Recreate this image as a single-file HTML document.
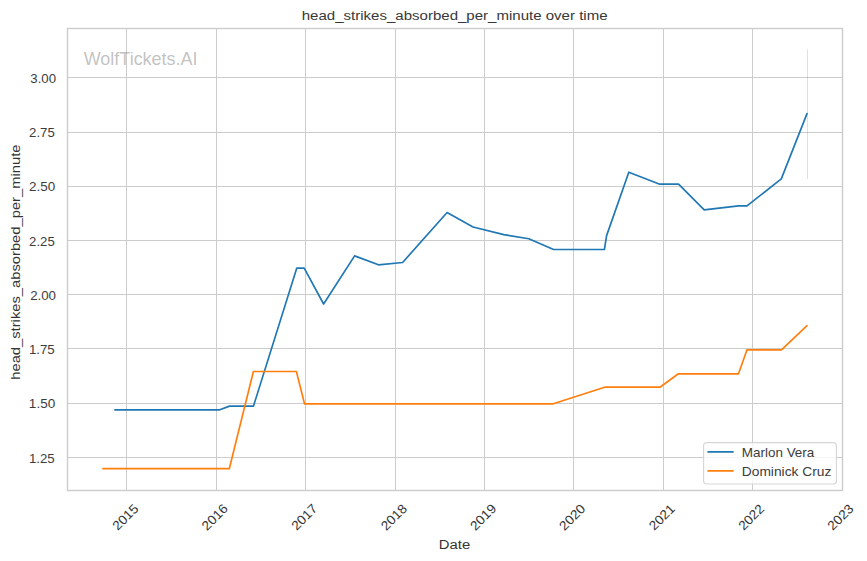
<!DOCTYPE html>
<html><head><meta charset="utf-8"><style>
html,body{margin:0;padding:0;background:#fff;width:867px;height:561px;overflow:hidden}
svg{display:block}
text{font-family:"Liberation Sans",sans-serif}
</style></head><body>
<svg width="867" height="561" viewBox="0 0 867 561">
<path d="M67.5 77.5H842.5M67.5 132.5H842.5M67.5 186.5H842.5M67.5 240.5H842.5M67.5 294.5H842.5M67.5 348.5H842.5M67.5 403.5H842.5M67.5 457.5H842.5M126.5 28.5V490.5M216.5 28.5V490.5M305.5 28.5V490.5M395.5 28.5V490.5M484.5 28.5V490.5M573.5 28.5V490.5M663.5 28.5V490.5M752.5 28.5V490.5" stroke="#cccccc" stroke-width="1" fill="none"/>
<text fill-opacity="0.49" transform="translate(83.71 64.75) scale(1.0293 1)" font-size="17.47" fill="#808080">WolfTickets.AI</text>
<path d="M807.5 49.4V179.1" stroke="#1f77b4" stroke-opacity="0.2" stroke-width="1" fill="none"/>
<polyline points="114.9,409.8 219.8,409.8 229.5,406.1 253.5,406.1 296.8,268.1 304.2,268.1 323.6,304.0 354.6,255.9 378.4,264.8 402.6,262.5 447.1,212.5 473.0,227.0 503.8,234.6 528.8,238.8 553.6,249.5 604.4,249.5 606.6,235.6 628.8,172.2 659.8,184.2 678.6,184.2 704.2,209.8 738.5,205.9 747.0,205.9 781.3,178.9 807.0,113.6" stroke="#1f77b4" stroke-width="1.67" fill="none" stroke-linejoin="round" stroke-linecap="round"/>
<polyline points="102.9,468.7 229.3,468.7 253.4,371.5 296.4,371.5 304.5,403.8 553.3,403.8 604.6,387.2 659.9,387.2 678.4,373.8 738.5,373.8 747.0,349.8 781.5,349.8 807.0,325.7" stroke="#ff7f0e" stroke-width="1.67" fill="none" stroke-linejoin="round" stroke-linecap="round"/>
<rect x="67.5" y="28.5" width="775.0" height="462.0" stroke="#cccccc" stroke-width="1.39" fill="none" stroke-linecap="square"/>
<text transform="translate(301.76 19.90) scale(1.1141 1)" font-size="13.50" fill="#383838">head_strikes_absorbed_per_minute over time</text>
<text transform="translate(20.25 378.75) rotate(-90) translate(-1.02 0) scale(1.0941 1)" font-size="13.50" fill="#343434">head_strikes_absorbed_per_minute</text>
<text transform="translate(30.30 82.90) scale(1.0245 1)" font-size="12.90" fill="#3c3c3c">3.00</text>
<text transform="translate(29.04 137.00) scale(1.0244 1)" font-size="12.90" fill="#3c3c3c">2.75</text>
<text transform="translate(29.03 191.00) scale(1.0436 1)" font-size="12.90" fill="#3c3c3c">2.50</text>
<text transform="translate(29.04 245.90) scale(1.0244 1)" font-size="12.90" fill="#3c3c3c">2.25</text>
<text transform="translate(30.13 299.90) scale(1.0311 1)" font-size="12.90" fill="#3c3c3c">2.00</text>
<text transform="translate(28.89 353.90) scale(1.0305 1)" font-size="12.90" fill="#3c3c3c">1.75</text>
<text transform="translate(28.87 408.00) scale(1.0500 1)" font-size="12.90" fill="#3c3c3c">1.50</text>
<text transform="translate(28.89 462.90) scale(1.0305 1)" font-size="12.90" fill="#3c3c3c">1.25</text>
<text transform="translate(125.50 517.10) rotate(-45) translate(-15.26 4.47) scale(1.0523 1)" font-size="12.99" fill="#333333">2015</text>
<text transform="translate(214.80 517.10) rotate(-45) translate(-15.41 4.47) scale(1.0639 1)" font-size="12.99" fill="#333333">2016</text>
<text transform="translate(304.30 517.10) rotate(-45) translate(-15.27 4.47) scale(1.0572 1)" font-size="12.99" fill="#333333">2017</text>
<text transform="translate(393.90 517.10) rotate(-45) translate(-15.38 4.47) scale(1.0612 1)" font-size="12.99" fill="#333333">2018</text>
<text transform="translate(483.10 517.10) rotate(-45) translate(-15.37 4.47) scale(1.0623 1)" font-size="12.99" fill="#333333">2019</text>
<text transform="translate(572.30 517.10) rotate(-45) translate(-15.39 4.47) scale(1.0601 1)" font-size="12.99" fill="#333333">2020</text>
<text transform="translate(661.90 517.10) rotate(-45) translate(-15.23 4.47) scale(1.0536 1)" font-size="12.99" fill="#333333">2021</text>
<text transform="translate(751.20 517.10) rotate(-45) translate(-15.18 4.47) scale(1.0505 1)" font-size="12.99" fill="#333333">2022</text>
<text transform="translate(840.50 517.10) rotate(-45) translate(-15.30 4.47) scale(1.0564 1)" font-size="12.99" fill="#333333">2023</text>
<text transform="translate(438.78 548.90) scale(1.1003 1)" font-size="13.50" fill="#343434">Date</text>
<rect x="703.6" y="442.6" width="132.8" height="41.4" rx="3" ry="3" fill="#ffffff" fill-opacity="0.8" stroke="#cccccc" stroke-opacity="0.8" stroke-width="1.11"/>
<path d="M708.1 451.9H733.0" stroke="#1f77b4" stroke-width="1.67" stroke-linecap="round"/>
<path d="M708.1 470.9H733.0" stroke="#ff7f0e" stroke-width="1.67" stroke-linecap="round"/>
<text transform="translate(741.80 456.60) scale(1.0512 1)" font-size="12.81" fill="#3c3c3c">Marlon Vera</text>
<text transform="translate(741.77 475.70) scale(1.0774 1)" font-size="12.81" fill="#3c3c3c">Dominick Cruz</text>
</svg>
</body></html>
